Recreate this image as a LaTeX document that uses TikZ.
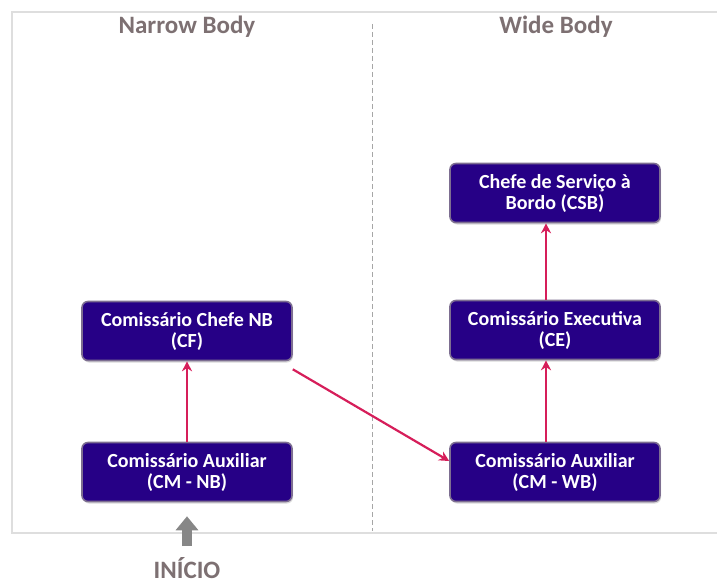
\documentclass[tikz,border=0pt]{standalone}
\usepackage{fontspec}
\setmainfont{Carlito}
\usetikzlibrary{arrows.meta,shadows}
\definecolor{boxfill}{RGB}{38,0,134}
\definecolor{boxborder}{RGB}{125,110,145}
\definecolor{arrred}{RGB}{214,30,90}
\definecolor{titlegray}{RGB}{125,112,114}
\definecolor{framegray}{RGB}{222,222,222}
\definecolor{startgray}{RGB}{135,135,135}
\tikzset{
  rolebox/.style={draw=boxborder, line width=1.6pt, fill=boxfill, rounded corners=6pt,
    minimum width=210pt, minimum height=59pt, text=white, align=center,
    font=\fontsize{20}{21}\selectfont\bfseries,
    drop shadow={shadow xshift=1pt, shadow yshift=-2pt, opacity=0.3}},
  titletext/.style={text=titlegray, font=\fontsize{25}{28}\selectfont\bfseries},
  promo/.style={draw=arrred, line width=2.2pt, -{Stealth[length=10pt,width=10pt]}},
}
\begin{document}
\begin{tikzpicture}[x=1pt,y=-1pt]
\useasboundingbox (0,0) rectangle (717,583);
% frame
\draw[framegray, line width=2pt] (730,12) -- (12,12) -- (12,533) -- (730,533);
\draw[gray!70, line width=0.8pt, dash pattern=on 5pt off 3pt] (372,24) -- (372,531);
% titles
\node[titletext] (ttlnb) at (187,27) {Narrow Body};
\node[titletext] (ttlwb) at (556,27) {Wide Body};
% boxes
\node[rolebox] (cf)   at (187,331) {Comissário Chefe NB\\(CF)};
\node[rolebox] (cmnb) at (187,472) {Comissário Auxiliar\\(CM - NB)};
\node[rolebox] (csb)  at (555,193) {Chefe de Serviço à\\Bordo (CSB)};
\node[rolebox] (ce)   at (555,330) {Comissário Executiva\\(CE)};
\node[rolebox] (cmwb) at (555,472) {Comissário Auxiliar\\(CM - WB)};
% connectors
\draw[promo] (cmnb.north) -- (cf.south);
\draw[promo] ([yshift=-8pt]cf.south east) -- ([yshift=11pt]cmwb.west);
\draw[promo] ([xshift=-9pt]cmwb.north) -- ([xshift=-9pt]ce.south);
\draw[promo] ([xshift=-9pt]ce.north) -- ([xshift=-9pt]csb.south);
% start
\node[anchor=base, text=titlegray, font=\fontsize{25}{26}\selectfont\bfseries] (inicio) at (187,578) {INÍCIO};
\coordinate (startbase) at (187,546);
\draw[startgray, line width=10pt, -{Triangle[length=14pt,width=22pt]}] (startbase) -- ([yshift=-14pt]cmnb.south);
\end{tikzpicture}
\end{document}
